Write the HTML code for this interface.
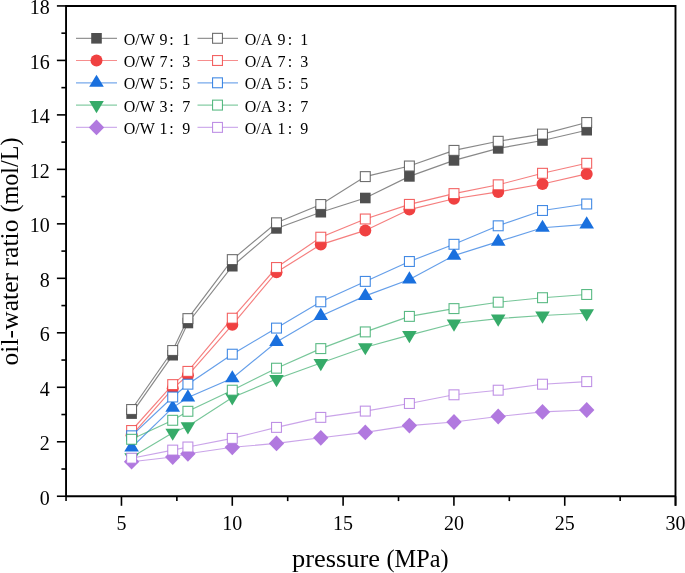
<!DOCTYPE html>
<html><head><meta charset="utf-8"><style>
html,body{margin:0;padding:0;background:#fff;}
svg{display:block;will-change:transform;}
text{font-family:"Liberation Serif",serif;fill:#000;}

</style></head><body>
<svg width="685" height="573" viewBox="0 0 685 573">
<rect width="685" height="573" fill="#fff"/>
<g><polyline points="131.60,413.60 172.70,355.20 187.90,323.00 232.30,266.20 276.50,228.40 320.80,212.20 365.30,198.00 409.40,176.40 454.00,160.40 498.20,148.40 542.50,140.50 586.70,130.20" fill="none" stroke="#4f4f4f" stroke-width="1.15" stroke-opacity="0.68"/>
<rect x="126.30" y="408.30" width="10.6" height="10.6" fill="#4f4f4f"/>
<rect x="167.40" y="349.90" width="10.6" height="10.6" fill="#4f4f4f"/>
<rect x="182.60" y="317.70" width="10.6" height="10.6" fill="#4f4f4f"/>
<rect x="227.00" y="260.90" width="10.6" height="10.6" fill="#4f4f4f"/>
<rect x="271.20" y="223.10" width="10.6" height="10.6" fill="#4f4f4f"/>
<rect x="315.50" y="206.90" width="10.6" height="10.6" fill="#4f4f4f"/>
<rect x="360.00" y="192.70" width="10.6" height="10.6" fill="#4f4f4f"/>
<rect x="404.10" y="171.10" width="10.6" height="10.6" fill="#4f4f4f"/>
<rect x="448.70" y="155.10" width="10.6" height="10.6" fill="#4f4f4f"/>
<rect x="492.90" y="143.10" width="10.6" height="10.6" fill="#4f4f4f"/>
<rect x="537.20" y="135.20" width="10.6" height="10.6" fill="#4f4f4f"/>
<rect x="581.40" y="124.90" width="10.6" height="10.6" fill="#4f4f4f"/>
<polyline points="131.60,435.30 172.70,388.60 187.90,375.30 232.30,324.80 276.50,272.20 320.80,244.60 365.30,230.40 409.40,209.60 454.00,198.80 498.20,191.90 542.50,184.00 586.70,173.90" fill="none" stroke="#f04141" stroke-width="1.15" stroke-opacity="0.68"/>
<circle cx="131.60" cy="435.30" r="6.0" fill="#f04141"/>
<circle cx="172.70" cy="388.60" r="6.0" fill="#f04141"/>
<circle cx="187.90" cy="375.30" r="6.0" fill="#f04141"/>
<circle cx="232.30" cy="324.80" r="6.0" fill="#f04141"/>
<circle cx="276.50" cy="272.20" r="6.0" fill="#f04141"/>
<circle cx="320.80" cy="244.60" r="6.0" fill="#f04141"/>
<circle cx="365.30" cy="230.40" r="6.0" fill="#f04141"/>
<circle cx="409.40" cy="209.60" r="6.0" fill="#f04141"/>
<circle cx="454.00" cy="198.80" r="6.0" fill="#f04141"/>
<circle cx="498.20" cy="191.90" r="6.0" fill="#f04141"/>
<circle cx="542.50" cy="184.00" r="6.0" fill="#f04141"/>
<circle cx="586.70" cy="173.90" r="6.0" fill="#f04141"/>
<polyline points="131.60,447.50 172.70,407.60 187.90,397.50 232.30,378.30 276.50,342.00 320.80,316.00 365.30,295.90 409.40,279.50 454.00,255.60 498.20,241.60 542.50,227.80 586.70,224.40" fill="none" stroke="#1a70de" stroke-width="1.15" stroke-opacity="0.68"/>
<path d="M131.60,439.37L138.90,451.57L124.30,451.57Z" fill="#1a70de"/>
<path d="M172.70,399.47L180.00,411.67L165.40,411.67Z" fill="#1a70de"/>
<path d="M187.90,389.37L195.20,401.57L180.60,401.57Z" fill="#1a70de"/>
<path d="M232.30,370.17L239.60,382.37L225.00,382.37Z" fill="#1a70de"/>
<path d="M276.50,333.87L283.80,346.07L269.20,346.07Z" fill="#1a70de"/>
<path d="M320.80,307.87L328.10,320.07L313.50,320.07Z" fill="#1a70de"/>
<path d="M365.30,287.77L372.60,299.97L358.00,299.97Z" fill="#1a70de"/>
<path d="M409.40,271.37L416.70,283.57L402.10,283.57Z" fill="#1a70de"/>
<path d="M454.00,247.47L461.30,259.67L446.70,259.67Z" fill="#1a70de"/>
<path d="M498.20,233.47L505.50,245.67L490.90,245.67Z" fill="#1a70de"/>
<path d="M542.50,219.67L549.80,231.87L535.20,231.87Z" fill="#1a70de"/>
<path d="M586.70,216.27L594.00,228.47L579.40,228.47Z" fill="#1a70de"/>
<polyline points="131.60,457.20 172.70,432.70 187.90,426.30 232.30,397.40 276.50,379.00 320.80,363.00 365.30,347.20 409.40,335.10 454.00,323.50 498.20,318.60 542.50,315.50 586.70,313.30" fill="none" stroke="#36ab69" stroke-width="1.15" stroke-opacity="0.68"/>
<path d="M131.60,465.33L138.90,453.13L124.30,453.13Z" fill="#36ab69"/>
<path d="M172.70,440.83L180.00,428.63L165.40,428.63Z" fill="#36ab69"/>
<path d="M187.90,434.43L195.20,422.23L180.60,422.23Z" fill="#36ab69"/>
<path d="M232.30,405.53L239.60,393.33L225.00,393.33Z" fill="#36ab69"/>
<path d="M276.50,387.13L283.80,374.93L269.20,374.93Z" fill="#36ab69"/>
<path d="M320.80,371.13L328.10,358.93L313.50,358.93Z" fill="#36ab69"/>
<path d="M365.30,355.33L372.60,343.13L358.00,343.13Z" fill="#36ab69"/>
<path d="M409.40,343.23L416.70,331.03L402.10,331.03Z" fill="#36ab69"/>
<path d="M454.00,331.63L461.30,319.43L446.70,319.43Z" fill="#36ab69"/>
<path d="M498.20,326.73L505.50,314.53L490.90,314.53Z" fill="#36ab69"/>
<path d="M542.50,323.63L549.80,311.43L535.20,311.43Z" fill="#36ab69"/>
<path d="M586.70,321.43L594.00,309.23L579.40,309.23Z" fill="#36ab69"/>
<polyline points="131.60,461.70 172.70,457.00 187.90,453.80 232.30,447.30 276.50,443.40 320.80,437.80 365.30,432.40 409.40,425.60 454.00,422.00 498.20,416.50 542.50,411.90 586.70,410.00" fill="none" stroke="#b179df" stroke-width="1.15" stroke-opacity="0.68"/>
<path d="M131.60,453.80L139.30,461.70L131.60,469.60L123.90,461.70Z" fill="#b179df"/>
<path d="M172.70,449.10L180.40,457.00L172.70,464.90L165.00,457.00Z" fill="#b179df"/>
<path d="M187.90,445.90L195.60,453.80L187.90,461.70L180.20,453.80Z" fill="#b179df"/>
<path d="M232.30,439.40L240.00,447.30L232.30,455.20L224.60,447.30Z" fill="#b179df"/>
<path d="M276.50,435.50L284.20,443.40L276.50,451.30L268.80,443.40Z" fill="#b179df"/>
<path d="M320.80,429.90L328.50,437.80L320.80,445.70L313.10,437.80Z" fill="#b179df"/>
<path d="M365.30,424.50L373.00,432.40L365.30,440.30L357.60,432.40Z" fill="#b179df"/>
<path d="M409.40,417.70L417.10,425.60L409.40,433.50L401.70,425.60Z" fill="#b179df"/>
<path d="M454.00,414.10L461.70,422.00L454.00,429.90L446.30,422.00Z" fill="#b179df"/>
<path d="M498.20,408.60L505.90,416.50L498.20,424.40L490.50,416.50Z" fill="#b179df"/>
<path d="M542.50,404.00L550.20,411.90L542.50,419.80L534.80,411.90Z" fill="#b179df"/>
<path d="M586.70,402.10L594.40,410.00L586.70,417.90L579.00,410.00Z" fill="#b179df"/>
<polyline points="131.60,409.50 172.70,350.50 187.90,318.60 232.30,259.60 276.50,222.80 320.80,204.50 365.30,176.60 409.40,166.00 454.00,150.40 498.20,141.30 542.50,134.10 586.70,122.50" fill="none" stroke="#4f4f4f" stroke-width="1.15" stroke-opacity="0.68"/>
<rect x="126.65" y="404.55" width="9.9" height="9.9" fill="#fff" stroke="#4f4f4f" stroke-width="1.1" stroke-opacity="0.82"/>
<rect x="167.75" y="345.55" width="9.9" height="9.9" fill="#fff" stroke="#4f4f4f" stroke-width="1.1" stroke-opacity="0.82"/>
<rect x="182.95" y="313.65" width="9.9" height="9.9" fill="#fff" stroke="#4f4f4f" stroke-width="1.1" stroke-opacity="0.82"/>
<rect x="227.35" y="254.65" width="9.9" height="9.9" fill="#fff" stroke="#4f4f4f" stroke-width="1.1" stroke-opacity="0.82"/>
<rect x="271.55" y="217.85" width="9.9" height="9.9" fill="#fff" stroke="#4f4f4f" stroke-width="1.1" stroke-opacity="0.82"/>
<rect x="315.85" y="199.55" width="9.9" height="9.9" fill="#fff" stroke="#4f4f4f" stroke-width="1.1" stroke-opacity="0.82"/>
<rect x="360.35" y="171.65" width="9.9" height="9.9" fill="#fff" stroke="#4f4f4f" stroke-width="1.1" stroke-opacity="0.82"/>
<rect x="404.45" y="161.05" width="9.9" height="9.9" fill="#fff" stroke="#4f4f4f" stroke-width="1.1" stroke-opacity="0.82"/>
<rect x="449.05" y="145.45" width="9.9" height="9.9" fill="#fff" stroke="#4f4f4f" stroke-width="1.1" stroke-opacity="0.82"/>
<rect x="493.25" y="136.35" width="9.9" height="9.9" fill="#fff" stroke="#4f4f4f" stroke-width="1.1" stroke-opacity="0.82"/>
<rect x="537.55" y="129.15" width="9.9" height="9.9" fill="#fff" stroke="#4f4f4f" stroke-width="1.1" stroke-opacity="0.82"/>
<rect x="581.75" y="117.55" width="9.9" height="9.9" fill="#fff" stroke="#4f4f4f" stroke-width="1.1" stroke-opacity="0.82"/>
<polyline points="131.60,430.50 172.70,384.60 187.90,371.40 232.30,318.20 276.50,267.50 320.80,237.20 365.30,219.00 409.40,204.40 454.00,193.60 498.20,184.80 542.50,173.30 586.70,163.30" fill="none" stroke="#f04141" stroke-width="1.15" stroke-opacity="0.68"/>
<rect x="126.65" y="425.55" width="9.9" height="9.9" fill="#fff" stroke="#f04141" stroke-width="1.1" stroke-opacity="0.82"/>
<rect x="167.75" y="379.65" width="9.9" height="9.9" fill="#fff" stroke="#f04141" stroke-width="1.1" stroke-opacity="0.82"/>
<rect x="182.95" y="366.45" width="9.9" height="9.9" fill="#fff" stroke="#f04141" stroke-width="1.1" stroke-opacity="0.82"/>
<rect x="227.35" y="313.25" width="9.9" height="9.9" fill="#fff" stroke="#f04141" stroke-width="1.1" stroke-opacity="0.82"/>
<rect x="271.55" y="262.55" width="9.9" height="9.9" fill="#fff" stroke="#f04141" stroke-width="1.1" stroke-opacity="0.82"/>
<rect x="315.85" y="232.25" width="9.9" height="9.9" fill="#fff" stroke="#f04141" stroke-width="1.1" stroke-opacity="0.82"/>
<rect x="360.35" y="214.05" width="9.9" height="9.9" fill="#fff" stroke="#f04141" stroke-width="1.1" stroke-opacity="0.82"/>
<rect x="404.45" y="199.45" width="9.9" height="9.9" fill="#fff" stroke="#f04141" stroke-width="1.1" stroke-opacity="0.82"/>
<rect x="449.05" y="188.65" width="9.9" height="9.9" fill="#fff" stroke="#f04141" stroke-width="1.1" stroke-opacity="0.82"/>
<rect x="493.25" y="179.85" width="9.9" height="9.9" fill="#fff" stroke="#f04141" stroke-width="1.1" stroke-opacity="0.82"/>
<rect x="537.55" y="168.35" width="9.9" height="9.9" fill="#fff" stroke="#f04141" stroke-width="1.1" stroke-opacity="0.82"/>
<rect x="581.75" y="158.35" width="9.9" height="9.9" fill="#fff" stroke="#f04141" stroke-width="1.1" stroke-opacity="0.82"/>
<polyline points="131.60,435.80 172.70,397.00 187.90,384.20 232.30,354.20 276.50,328.10 320.80,301.80 365.30,281.40 409.40,261.50 454.00,244.30 498.20,225.80 542.50,210.50 586.70,204.00" fill="none" stroke="#1a70de" stroke-width="1.15" stroke-opacity="0.68"/>
<rect x="126.65" y="430.85" width="9.9" height="9.9" fill="#fff" stroke="#1a70de" stroke-width="1.1" stroke-opacity="0.82"/>
<rect x="167.75" y="392.05" width="9.9" height="9.9" fill="#fff" stroke="#1a70de" stroke-width="1.1" stroke-opacity="0.82"/>
<rect x="182.95" y="379.25" width="9.9" height="9.9" fill="#fff" stroke="#1a70de" stroke-width="1.1" stroke-opacity="0.82"/>
<rect x="227.35" y="349.25" width="9.9" height="9.9" fill="#fff" stroke="#1a70de" stroke-width="1.1" stroke-opacity="0.82"/>
<rect x="271.55" y="323.15" width="9.9" height="9.9" fill="#fff" stroke="#1a70de" stroke-width="1.1" stroke-opacity="0.82"/>
<rect x="315.85" y="296.85" width="9.9" height="9.9" fill="#fff" stroke="#1a70de" stroke-width="1.1" stroke-opacity="0.82"/>
<rect x="360.35" y="276.45" width="9.9" height="9.9" fill="#fff" stroke="#1a70de" stroke-width="1.1" stroke-opacity="0.82"/>
<rect x="404.45" y="256.55" width="9.9" height="9.9" fill="#fff" stroke="#1a70de" stroke-width="1.1" stroke-opacity="0.82"/>
<rect x="449.05" y="239.35" width="9.9" height="9.9" fill="#fff" stroke="#1a70de" stroke-width="1.1" stroke-opacity="0.82"/>
<rect x="493.25" y="220.85" width="9.9" height="9.9" fill="#fff" stroke="#1a70de" stroke-width="1.1" stroke-opacity="0.82"/>
<rect x="537.55" y="205.55" width="9.9" height="9.9" fill="#fff" stroke="#1a70de" stroke-width="1.1" stroke-opacity="0.82"/>
<rect x="581.75" y="199.05" width="9.9" height="9.9" fill="#fff" stroke="#1a70de" stroke-width="1.1" stroke-opacity="0.82"/>
<polyline points="131.60,439.30 172.70,420.30 187.90,411.30 232.30,390.20 276.50,368.20 320.80,348.60 365.30,331.90 409.40,316.40 454.00,308.60 498.20,302.20 542.50,297.70 586.70,294.50" fill="none" stroke="#36ab69" stroke-width="1.15" stroke-opacity="0.68"/>
<rect x="126.65" y="434.35" width="9.9" height="9.9" fill="#fff" stroke="#36ab69" stroke-width="1.1" stroke-opacity="0.82"/>
<rect x="167.75" y="415.35" width="9.9" height="9.9" fill="#fff" stroke="#36ab69" stroke-width="1.1" stroke-opacity="0.82"/>
<rect x="182.95" y="406.35" width="9.9" height="9.9" fill="#fff" stroke="#36ab69" stroke-width="1.1" stroke-opacity="0.82"/>
<rect x="227.35" y="385.25" width="9.9" height="9.9" fill="#fff" stroke="#36ab69" stroke-width="1.1" stroke-opacity="0.82"/>
<rect x="271.55" y="363.25" width="9.9" height="9.9" fill="#fff" stroke="#36ab69" stroke-width="1.1" stroke-opacity="0.82"/>
<rect x="315.85" y="343.65" width="9.9" height="9.9" fill="#fff" stroke="#36ab69" stroke-width="1.1" stroke-opacity="0.82"/>
<rect x="360.35" y="326.95" width="9.9" height="9.9" fill="#fff" stroke="#36ab69" stroke-width="1.1" stroke-opacity="0.82"/>
<rect x="404.45" y="311.45" width="9.9" height="9.9" fill="#fff" stroke="#36ab69" stroke-width="1.1" stroke-opacity="0.82"/>
<rect x="449.05" y="303.65" width="9.9" height="9.9" fill="#fff" stroke="#36ab69" stroke-width="1.1" stroke-opacity="0.82"/>
<rect x="493.25" y="297.25" width="9.9" height="9.9" fill="#fff" stroke="#36ab69" stroke-width="1.1" stroke-opacity="0.82"/>
<rect x="537.55" y="292.75" width="9.9" height="9.9" fill="#fff" stroke="#36ab69" stroke-width="1.1" stroke-opacity="0.82"/>
<rect x="581.75" y="289.55" width="9.9" height="9.9" fill="#fff" stroke="#36ab69" stroke-width="1.1" stroke-opacity="0.82"/>
<polyline points="131.60,458.20 172.70,450.10 187.90,447.00 232.30,438.40 276.50,427.40 320.80,417.40 365.30,411.10 409.40,403.50 454.00,394.80 498.20,390.20 542.50,384.20 586.70,381.60" fill="none" stroke="#b179df" stroke-width="1.15" stroke-opacity="0.68"/>
<rect x="126.65" y="453.25" width="9.9" height="9.9" fill="#fff" stroke="#b179df" stroke-width="1.1" stroke-opacity="0.82"/>
<rect x="167.75" y="445.15" width="9.9" height="9.9" fill="#fff" stroke="#b179df" stroke-width="1.1" stroke-opacity="0.82"/>
<rect x="182.95" y="442.05" width="9.9" height="9.9" fill="#fff" stroke="#b179df" stroke-width="1.1" stroke-opacity="0.82"/>
<rect x="227.35" y="433.45" width="9.9" height="9.9" fill="#fff" stroke="#b179df" stroke-width="1.1" stroke-opacity="0.82"/>
<rect x="271.55" y="422.45" width="9.9" height="9.9" fill="#fff" stroke="#b179df" stroke-width="1.1" stroke-opacity="0.82"/>
<rect x="315.85" y="412.45" width="9.9" height="9.9" fill="#fff" stroke="#b179df" stroke-width="1.1" stroke-opacity="0.82"/>
<rect x="360.35" y="406.15" width="9.9" height="9.9" fill="#fff" stroke="#b179df" stroke-width="1.1" stroke-opacity="0.82"/>
<rect x="404.45" y="398.55" width="9.9" height="9.9" fill="#fff" stroke="#b179df" stroke-width="1.1" stroke-opacity="0.82"/>
<rect x="449.05" y="389.85" width="9.9" height="9.9" fill="#fff" stroke="#b179df" stroke-width="1.1" stroke-opacity="0.82"/>
<rect x="493.25" y="385.25" width="9.9" height="9.9" fill="#fff" stroke="#b179df" stroke-width="1.1" stroke-opacity="0.82"/>
<rect x="537.55" y="379.25" width="9.9" height="9.9" fill="#fff" stroke="#b179df" stroke-width="1.1" stroke-opacity="0.82"/>
<rect x="581.75" y="376.65" width="9.9" height="9.9" fill="#fff" stroke="#b179df" stroke-width="1.1" stroke-opacity="0.82"/></g>
<g><path d="M66.05,496.25V6.0H675.5V505.8M675.5,496.25H66.05" fill="none" stroke="#000" stroke-width="1.9" stroke-linejoin="miter"/>
<line x1="56.9" y1="496.25" x2="66.05" y2="496.25" stroke="#000" stroke-width="1.6" stroke-linecap="butt"/>
<line x1="61.4" y1="469.01" x2="66.05" y2="469.01" stroke="#000" stroke-width="1.6" stroke-linecap="butt"/>
<line x1="56.9" y1="441.77" x2="66.05" y2="441.77" stroke="#000" stroke-width="1.6" stroke-linecap="butt"/>
<line x1="61.4" y1="414.53" x2="66.05" y2="414.53" stroke="#000" stroke-width="1.6" stroke-linecap="butt"/>
<line x1="56.9" y1="387.29" x2="66.05" y2="387.29" stroke="#000" stroke-width="1.6" stroke-linecap="butt"/>
<line x1="61.4" y1="360.05" x2="66.05" y2="360.05" stroke="#000" stroke-width="1.6" stroke-linecap="butt"/>
<line x1="56.9" y1="332.81" x2="66.05" y2="332.81" stroke="#000" stroke-width="1.6" stroke-linecap="butt"/>
<line x1="61.4" y1="305.57" x2="66.05" y2="305.57" stroke="#000" stroke-width="1.6" stroke-linecap="butt"/>
<line x1="56.9" y1="278.33" x2="66.05" y2="278.33" stroke="#000" stroke-width="1.6" stroke-linecap="butt"/>
<line x1="61.4" y1="251.09" x2="66.05" y2="251.09" stroke="#000" stroke-width="1.6" stroke-linecap="butt"/>
<line x1="56.9" y1="223.85" x2="66.05" y2="223.85" stroke="#000" stroke-width="1.6" stroke-linecap="butt"/>
<line x1="61.4" y1="196.61" x2="66.05" y2="196.61" stroke="#000" stroke-width="1.6" stroke-linecap="butt"/>
<line x1="56.9" y1="169.37" x2="66.05" y2="169.37" stroke="#000" stroke-width="1.6" stroke-linecap="butt"/>
<line x1="61.4" y1="142.13" x2="66.05" y2="142.13" stroke="#000" stroke-width="1.6" stroke-linecap="butt"/>
<line x1="56.9" y1="114.89" x2="66.05" y2="114.89" stroke="#000" stroke-width="1.6" stroke-linecap="butt"/>
<line x1="61.4" y1="87.65" x2="66.05" y2="87.65" stroke="#000" stroke-width="1.6" stroke-linecap="butt"/>
<line x1="56.9" y1="60.41" x2="66.05" y2="60.41" stroke="#000" stroke-width="1.6" stroke-linecap="butt"/>
<line x1="61.4" y1="33.17" x2="66.05" y2="33.17" stroke="#000" stroke-width="1.6" stroke-linecap="butt"/>
<line x1="56.9" y1="5.93" x2="66.05" y2="5.93" stroke="#000" stroke-width="1.6" stroke-linecap="butt"/>
<line x1="66.05" y1="496.25" x2="66.05" y2="501.1" stroke="#000" stroke-width="1.6" stroke-linecap="butt"/>
<line x1="121.46" y1="496.25" x2="121.46" y2="505.8" stroke="#000" stroke-width="1.6" stroke-linecap="butt"/>
<line x1="176.87" y1="496.25" x2="176.87" y2="501.1" stroke="#000" stroke-width="1.6" stroke-linecap="butt"/>
<line x1="232.28" y1="496.25" x2="232.28" y2="505.8" stroke="#000" stroke-width="1.6" stroke-linecap="butt"/>
<line x1="287.69" y1="496.25" x2="287.69" y2="501.1" stroke="#000" stroke-width="1.6" stroke-linecap="butt"/>
<line x1="343.10" y1="496.25" x2="343.10" y2="505.8" stroke="#000" stroke-width="1.6" stroke-linecap="butt"/>
<line x1="398.51" y1="496.25" x2="398.51" y2="501.1" stroke="#000" stroke-width="1.6" stroke-linecap="butt"/>
<line x1="453.92" y1="496.25" x2="453.92" y2="505.8" stroke="#000" stroke-width="1.6" stroke-linecap="butt"/>
<line x1="509.33" y1="496.25" x2="509.33" y2="501.1" stroke="#000" stroke-width="1.6" stroke-linecap="butt"/>
<line x1="564.74" y1="496.25" x2="564.74" y2="505.8" stroke="#000" stroke-width="1.6" stroke-linecap="butt"/>
<line x1="620.15" y1="496.25" x2="620.15" y2="501.1" stroke="#000" stroke-width="1.6" stroke-linecap="butt"/>
<line x1="675.56" y1="496.25" x2="675.56" y2="505.8" stroke="#000" stroke-width="1.6" stroke-linecap="butt"/></g>
<g font-size="20"><text x="49.8" y="504.65" text-anchor="end">0</text>
<text x="49.8" y="450.17" text-anchor="end">2</text>
<text x="49.8" y="395.69" text-anchor="end">4</text>
<text x="49.8" y="341.21" text-anchor="end">6</text>
<text x="49.8" y="286.73" text-anchor="end">8</text>
<text x="49.8" y="232.25" text-anchor="end">10</text>
<text x="49.8" y="177.77" text-anchor="end">12</text>
<text x="49.8" y="123.29" text-anchor="end">14</text>
<text x="49.8" y="68.81" text-anchor="end">16</text>
<text x="49.8" y="14.33" text-anchor="end">18</text>
<text x="121.46" y="530" text-anchor="middle">5</text>
<text x="232.28" y="530" text-anchor="middle">10</text>
<text x="343.10" y="530" text-anchor="middle">15</text>
<text x="453.92" y="530" text-anchor="middle">20</text>
<text x="564.74" y="530" text-anchor="middle">25</text>
<text x="675.56" y="530" text-anchor="middle">30</text></g>
<g font-size="16" class="leg"><line x1="76" y1="38.3" x2="117" y2="38.3" stroke="#4f4f4f" stroke-width="1.2" stroke-opacity="0.6"/>
<rect x="91.20" y="33.00" width="10.6" height="10.6" fill="#4f4f4f"/>
<line x1="197.5" y1="38.3" x2="238" y2="38.3" stroke="#4f4f4f" stroke-width="1.2" stroke-opacity="0.6"/>
<rect x="212.55" y="33.35" width="9.9" height="9.9" fill="#fff" stroke="#4f4f4f" stroke-width="1.1" stroke-opacity="0.82"/>
<text x="123.8" y="44.70">O/W</text><text x="163.4" y="44.70" text-anchor="middle">9</text><text x="171.6" y="44.70" text-anchor="middle">:</text><text x="186.2" y="44.70" text-anchor="middle">1</text>
<text x="244.7" y="44.70">O/A</text><text x="281.5" y="44.70" text-anchor="middle">9</text><text x="290.0" y="44.70" text-anchor="middle">:</text><text x="304.2" y="44.70" text-anchor="middle">1</text>
<line x1="76" y1="60.5" x2="117" y2="60.5" stroke="#f04141" stroke-width="1.2" stroke-opacity="0.6"/>
<circle cx="96.50" cy="60.50" r="6.0" fill="#f04141"/>
<line x1="197.5" y1="60.5" x2="238" y2="60.5" stroke="#f04141" stroke-width="1.2" stroke-opacity="0.6"/>
<rect x="212.55" y="55.55" width="9.9" height="9.9" fill="#fff" stroke="#f04141" stroke-width="1.1" stroke-opacity="0.82"/>
<text x="123.8" y="66.90">O/W</text><text x="163.4" y="66.90" text-anchor="middle">7</text><text x="171.6" y="66.90" text-anchor="middle">:</text><text x="186.2" y="66.90" text-anchor="middle">3</text>
<text x="244.7" y="66.90">O/A</text><text x="281.5" y="66.90" text-anchor="middle">7</text><text x="290.0" y="66.90" text-anchor="middle">:</text><text x="304.2" y="66.90" text-anchor="middle">3</text>
<line x1="76" y1="82.8" x2="117" y2="82.8" stroke="#1a70de" stroke-width="1.2" stroke-opacity="0.6"/>
<path d="M96.50,74.67L103.80,86.87L89.20,86.87Z" fill="#1a70de"/>
<line x1="197.5" y1="82.8" x2="238" y2="82.8" stroke="#1a70de" stroke-width="1.2" stroke-opacity="0.6"/>
<rect x="212.55" y="77.85" width="9.9" height="9.9" fill="#fff" stroke="#1a70de" stroke-width="1.1" stroke-opacity="0.82"/>
<text x="123.8" y="89.20">O/W</text><text x="163.4" y="89.20" text-anchor="middle">5</text><text x="171.6" y="89.20" text-anchor="middle">:</text><text x="186.2" y="89.20" text-anchor="middle">5</text>
<text x="244.7" y="89.20">O/A</text><text x="281.5" y="89.20" text-anchor="middle">5</text><text x="290.0" y="89.20" text-anchor="middle">:</text><text x="304.2" y="89.20" text-anchor="middle">5</text>
<line x1="76" y1="105.1" x2="117" y2="105.1" stroke="#36ab69" stroke-width="1.2" stroke-opacity="0.6"/>
<path d="M96.50,113.23L103.80,101.03L89.20,101.03Z" fill="#36ab69"/>
<line x1="197.5" y1="105.1" x2="238" y2="105.1" stroke="#36ab69" stroke-width="1.2" stroke-opacity="0.6"/>
<rect x="212.55" y="100.15" width="9.9" height="9.9" fill="#fff" stroke="#36ab69" stroke-width="1.1" stroke-opacity="0.82"/>
<text x="123.8" y="111.50">O/W</text><text x="163.4" y="111.50" text-anchor="middle">3</text><text x="171.6" y="111.50" text-anchor="middle">:</text><text x="186.2" y="111.50" text-anchor="middle">7</text>
<text x="244.7" y="111.50">O/A</text><text x="281.5" y="111.50" text-anchor="middle">3</text><text x="290.0" y="111.50" text-anchor="middle">:</text><text x="304.2" y="111.50" text-anchor="middle">7</text>
<line x1="76" y1="127.4" x2="117" y2="127.4" stroke="#b179df" stroke-width="1.2" stroke-opacity="0.6"/>
<path d="M96.50,119.50L104.20,127.40L96.50,135.30L88.80,127.40Z" fill="#b179df"/>
<line x1="197.5" y1="127.4" x2="238" y2="127.4" stroke="#b179df" stroke-width="1.2" stroke-opacity="0.6"/>
<rect x="212.55" y="122.45" width="9.9" height="9.9" fill="#fff" stroke="#b179df" stroke-width="1.1" stroke-opacity="0.82"/>
<text x="123.8" y="133.80">O/W</text><text x="163.4" y="133.80" text-anchor="middle">1</text><text x="171.6" y="133.80" text-anchor="middle">:</text><text x="186.2" y="133.80" text-anchor="middle">9</text>
<text x="244.7" y="133.80">O/A</text><text x="281.5" y="133.80" text-anchor="middle">1</text><text x="290.0" y="133.80" text-anchor="middle">:</text><text x="304.2" y="133.80" text-anchor="middle">9</text></g>
<text x="292.0" y="567" font-size="25" textLength="88" lengthAdjust="spacingAndGlyphs">pressure</text><text x="386.5" y="567" font-size="25" textLength="62" lengthAdjust="spacingAndGlyphs">(MPa)</text>
<text transform="translate(17.9,0) rotate(-90)" x="-365.5" y="0" font-size="25" textLength="146" lengthAdjust="spacingAndGlyphs">oil-water ratio</text><text transform="translate(17.9,0) rotate(-90)" x="-212.5" y="0" font-size="25" textLength="75" lengthAdjust="spacingAndGlyphs">(mol/L)</text>
</svg>
</body></html>
